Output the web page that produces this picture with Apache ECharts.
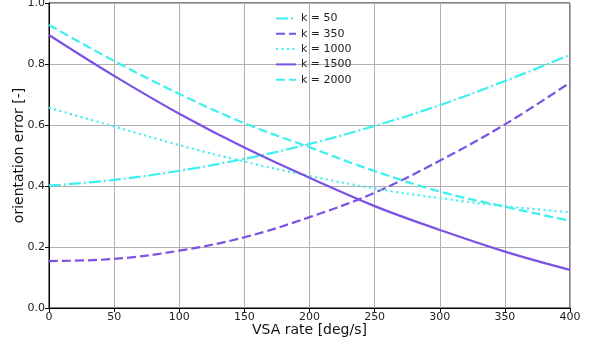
<!DOCTYPE html>
<html>
<head>
<meta charset="utf-8">
<script src="https://cdn.jsdelivr.net/npm/echarts@6/dist/echarts.min.js"></script>
<style>
  html, body { margin: 0; padding: 0; background: #fff; }
  #chart { width: 592px; height: 345px; }
</style>
</head>
<body>
<div id="chart"></div>
<script>
// VSA rate samples (deg/s)
const rates = [0, 50, 100, 150, 200, 250, 300, 350, 400];
const xTicks = [0, 50, 100, 150, 200, 250, 300, 350, 400];
const yTicks = [0.0, 0.2, 0.4, 0.6, 0.8, 1.0];

// orientation error per gain k
const k50   = [0.401, 0.420, 0.450, 0.489, 0.538, 0.597, 0.665, 0.744, 0.830];
const k350  = [0.154, 0.161, 0.188, 0.232, 0.298, 0.378, 0.483, 0.602, 0.739];
const k1000 = [0.657, 0.595, 0.534, 0.480, 0.433, 0.392, 0.360, 0.334, 0.314];
const k1500 = [0.895, 0.761, 0.637, 0.526, 0.427, 0.334, 0.256, 0.185, 0.125];
const k2000 = [0.928, 0.810, 0.702, 0.606, 0.527, 0.449, 0.382, 0.332, 0.286];

const CYAN = '#3cf0f0';
const PURPLE = '#7b52e3';
const FONT = 'DejaVu Sans';

function pairs(ys) { return rates.map((x, i) => [x, ys[i]]); }

function line(name, ys, color, dash) {
  return {
    name: name,
    type: 'line',
    data: pairs(ys),
    smooth: 0.4,
    symbol: 'none',
    showSymbol: false,
    lineStyle: { color: color, width: 2.2, type: dash, cap: 'butt' },
    itemStyle: { color: color },
    z: 3
  };
}

const chart = echarts.init(document.getElementById('chart'), null, { renderer: 'canvas' });
chart.setOption({
  animation: false,
  backgroundColor: '#fff',
  grid: {
    left: 49, right: 22, top: 3, bottom: 37,
    containLabel: false, outerBoundsMode: 'none',
    show: true, borderColor: '#000', borderWidth: 1, backgroundColor: 'transparent'
  },
  legend: {
    orient: 'vertical',
    left: 270, top: 8,
    itemWidth: 20, itemHeight: 10, itemGap: 4.3,
    itemStyle: { opacity: 0 },
    textStyle: { fontFamily: FONT, fontSize: 11, color: '#222' },
    data: ['k = 50', 'k = 350', 'k = 1000', 'k = 1500', 'k = 2000']
  },
  xAxis: {
    type: 'value',
    min: 0, max: 400, interval: 50,
    name: 'VSA rate [deg/s]',
    nameLocation: 'middle', nameGap: 15, nameMoveOverlap: false,
    nameTextStyle: { fontFamily: FONT, fontSize: 14, color: '#111', verticalAlign: 'top' },
    axisLine: { show: true, onZero: false, lineStyle: { color: '#000', width: 1 } },
    axisTick: { show: true, inside: false, length: 4, lineStyle: { color: '#000' } },
    axisLabel: {
      fontFamily: FONT, fontSize: 11, color: '#222', margin: 4,
      formatter: v => xTicks.includes(v) ? String(v) : ''
    },
    splitLine: { show: true, lineStyle: { color: '#b0b0b0', width: 1 } }
  },
  yAxis: {
    type: 'value',
    min: 0, max: 1, interval: 0.2,
    name: 'orientation error [-]',
    nameLocation: 'middle', nameGap: 23, nameMoveOverlap: false,
    nameTextStyle: { fontFamily: FONT, fontSize: 14, color: '#111' },
    axisLine: { show: true, lineStyle: { color: '#000', width: 1 } },
    axisTick: { show: true, inside: false, length: 4, lineStyle: { color: '#000' } },
    axisLabel: {
      fontFamily: FONT, fontSize: 11, color: '#222', margin: 4,
      formatter: v => {
        const t = yTicks.find(y => Math.abs(y - v) < 1e-6);
        return t === undefined ? '' : t.toFixed(1);
      }
    },
    splitLine: { show: true, lineStyle: { color: '#b0b0b0', width: 1 } }
  },
  series: [
    line('k = 50', k50, CYAN, [12, 3, 2, 3]),
    line('k = 350', k350, PURPLE, [9, 4]),
    line('k = 1000', k1000, CYAN, [2, 3.5]),
    line('k = 1500', k1500, PURPLE, 'solid'),
    line('k = 2000', k2000, CYAN, [9, 4])
  ]
});
</script>
</body>
</html>
